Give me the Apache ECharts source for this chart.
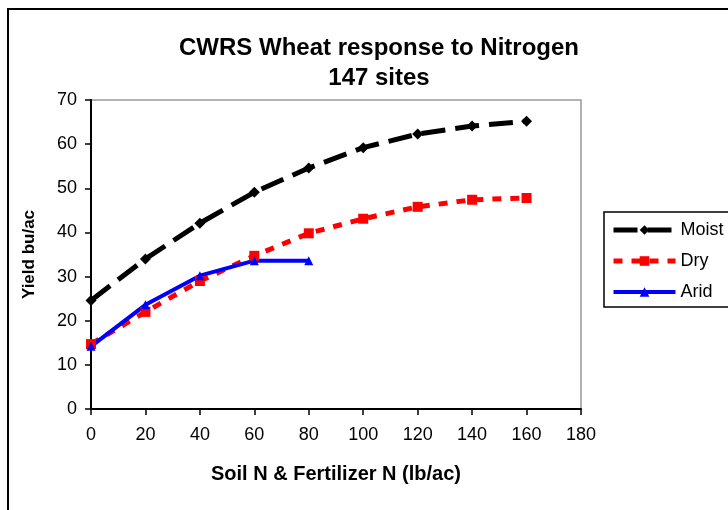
<!DOCTYPE html>
<html>
<head>
<meta charset="utf-8">
<script src="https://cdn.jsdelivr.net/npm/echarts@6/dist/echarts.min.js"></script>
<style>
  html, body { margin: 0; padding: 0; background: #fff; }
  #chart { width: 728px; height: 510px; }
</style>
</head>
<body>
<div id="chart"></div>
<script>
// nitrogen rates (lb/ac) and yields (bu/ac)
const nRates = [0, 20, 40, 60, 80, 100, 120, 140, 160]
const moist = [24.6, 34, 42.1, 49.1, 54.6, 59.2, 62.3, 64.1, 65.2]
const dry = [14.7, 22, 29, 34.7, 39.8, 43.1, 45.8, 47.4, 47.8]
const arid = [14.2, 23.6, 30.2, 33.6, 33.6]

const pairs = (ys) => ys.map((y, i) => [nRates[i], y])

const font = 'Liberation Sans, Arial, sans-serif'

const chart = echarts.init(document.getElementById('chart'))

chart.setOption({
  animation: false,
  backgroundColor: '#fff',
  title: {
    text: 'CWRS Wheat response to Nitrogen\n147 sites',
    left: 374,
    top: 28,
    textAlign: 'center',
    textStyle: { fontFamily: font, fontSize: 24, fontWeight: 'bold', color: '#000', lineHeight: 30 }
  },
  graphic: [
    {
      type: 'rect',
      shape: { x: 8, y: 9, width: 740, height: 520 },
      style: { fill: 'none', stroke: '#000', lineWidth: 2 },
      z: -1
    },
    {
      type: 'rect',
      shape: { x: 604, y: 212, width: 140, height: 95 },
      style: { fill: '#fff', stroke: '#000', lineWidth: 1.5 },
      z: 5
    }
  ],
  legend: {
    orient: 'vertical',
    left: 606,
    top: 216,
    itemWidth: 62,
    itemHeight: 12,
    itemGap: 13,
    z: 10,
    lineStyle: { width: 'inherit' },
    textStyle: { fontFamily: font, fontSize: 18, color: '#000' },
    data: ['Moist', 'Dry', 'Arid']
  },
  grid: {
    left: 91,
    top: 100,
    width: 490,
    height: 309,
    show: true,
    borderColor: '#999',
    borderWidth: 1.5
  },
  xAxis: {
    type: 'value',
    min: 0,
    max: 180,
    interval: 20,
    name: 'Soil N & Fertilizer N (lb/ac)',
    nameLocation: 'middle',
    nameGap: 55,
    nameTextStyle: { fontFamily: font, fontSize: 20, fontWeight: 'bold', color: '#000' },
    axisLine: { lineStyle: { color: '#000', width: 2 } },
    axisTick: { show: true, length: 6, lineStyle: { color: '#000', width: 1.5 } },
    axisLabel: { fontFamily: font, fontSize: 18, color: '#000', margin: 17 },
    splitLine: { show: false }
  },
  yAxis: {
    type: 'value',
    min: 0,
    max: 70,
    interval: 10,
    name: 'Yield bu/ac',
    nameLocation: 'middle',
    nameGap: 53,
    nameTextStyle: { fontFamily: font, fontSize: 17, fontWeight: 'bold', color: '#000' },
    axisLine: { show: true, lineStyle: { color: '#000', width: 2 } },
    axisTick: { show: true, length: 6, lineStyle: { color: '#000', width: 1.5 } },
    axisLabel: { fontFamily: font, fontSize: 18, color: '#000', margin: 14 },
    splitLine: { show: false }
  },
  series: [
    {
      name: 'Moist',
      type: 'line',
      data: pairs(moist),
      symbol: 'diamond',
      symbolSize: 11,
      color: '#000',
      lineStyle: { color: '#000', width: 5, type: [24, 10] },
      itemStyle: { color: '#000' }
    },
    {
      name: 'Dry',
      type: 'line',
      data: pairs(dry),
      symbol: 'rect',
      symbolSize: 10,
      color: '#ff0000',
      lineStyle: { color: '#ff0000', width: 5, type: [9, 9] },
      itemStyle: { color: '#ff0000' }
    },
    {
      name: 'Arid',
      type: 'line',
      data: pairs(arid),
      symbol: 'triangle',
      symbolSize: 9,
      color: '#0000ff',
      lineStyle: { color: '#0000ff', width: 4 },
      itemStyle: { color: '#0000ff' }
    }
  ]
})
</script>
</body>
</html>
